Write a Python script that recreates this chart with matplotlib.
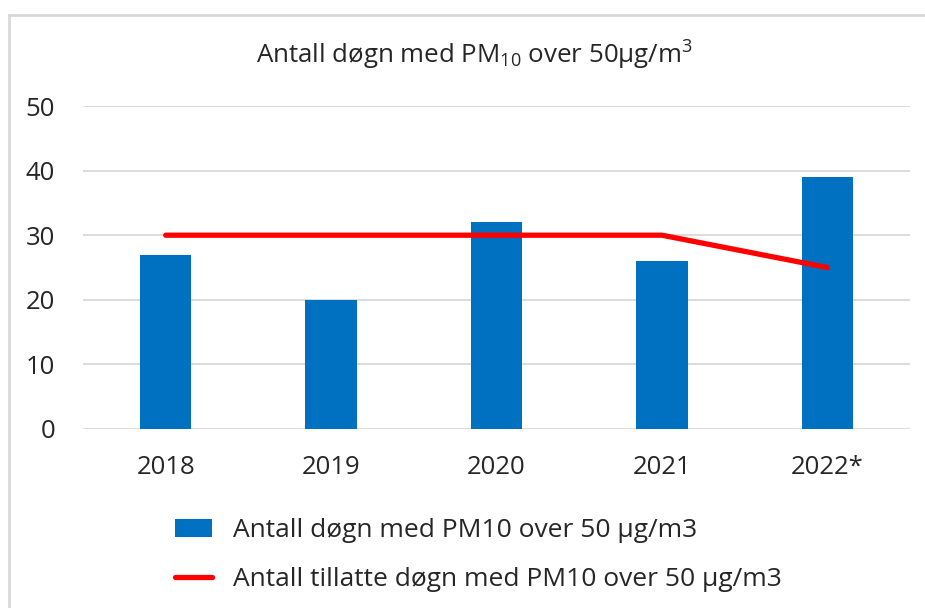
import matplotlib
matplotlib.use("Agg")
import matplotlib.pyplot as plt
from matplotlib.lines import Line2D
import numpy as np

# data
years = ["2018", "2019", "2020", "2021", "2022*"]
days_over = [27, 20, 32, 26, 39]
days_allowed = [30, 30, 30, 30, 25]
yticks = [0, 10, 20, 30, 40, 50]

plt.rcParams['font.family'] = ['Open Sans', 'DejaVu Sans']
plt.rcParams['mathtext.fontset'] = 'custom'
plt.rcParams['mathtext.rm'] = 'Open Sans'

W, H = 925, 608
fig = plt.figure(figsize=(W / 100, H / 100), dpi=100)
ax = fig.add_axes([83 / W, 1 - 429 / H, (910 - 83) / W, (429 - 106) / H])

x = np.arange(len(years))
bars = ax.bar(x, days_over, width=0.31, color="#0070C0", zorder=2,
              label="Antall døgn med PM10 over 50 μg/m3")
line, = ax.plot(x, days_allowed, color="#FF0000", linewidth=3.8, zorder=3,
                solid_capstyle="round",
                label="Antall tillatte døgn med PM10 over 50 μg/m3")

ax.set_xlim(-0.5, len(years) - 0.5)
ax.set_ylim(0, 50)
ax.set_yticks(yticks)
ax.set_xticks(x)
ax.set_xticklabels(years)
ax.tick_params(axis='both', length=0, labelsize=18.5, colors="#262626")
ax.tick_params(axis='y', pad=20)
ax.tick_params(axis='x', pad=19)
ax.grid(axis='y', color="#D9D9D9", linewidth=1.3, zorder=0)
for s in ax.spines.values():
    s.set_visible(False)

fig.text(474 / W, 1 - 55 / H,
         r"Antall døgn med PM$\mathregular{_{10}}$ over 50µg/m$\mathregular{^{3}}$",
         ha="center", va="center", fontsize=18.6, color="#262626")

leg = fig.legend([bars, line], [bars.get_label(), line.get_label()],
                 loc="upper left", bbox_to_anchor=(175 / W, 1 - 518 / H),
                 frameon=False, fontsize=19, handlelength=1.4,
                 handletextpad=0.8, labelspacing=0.9, borderaxespad=0,
                 borderpad=0)
for t in leg.get_texts():
    t.set_color("#262626")

# outer frame (left and top edges only visible)
fig.add_artist(Line2D([9 / W, 9 / W], [0, 1 - 15 / H], color="#D9D9D9",
                      linewidth=2, transform=fig.transFigure))
fig.add_artist(Line2D([9 / W, 1], [1 - 15 / H, 1 - 15 / H], color="#D9D9D9",
                      linewidth=2, transform=fig.transFigure))

fig.savefig("out.png", dpi=100)
